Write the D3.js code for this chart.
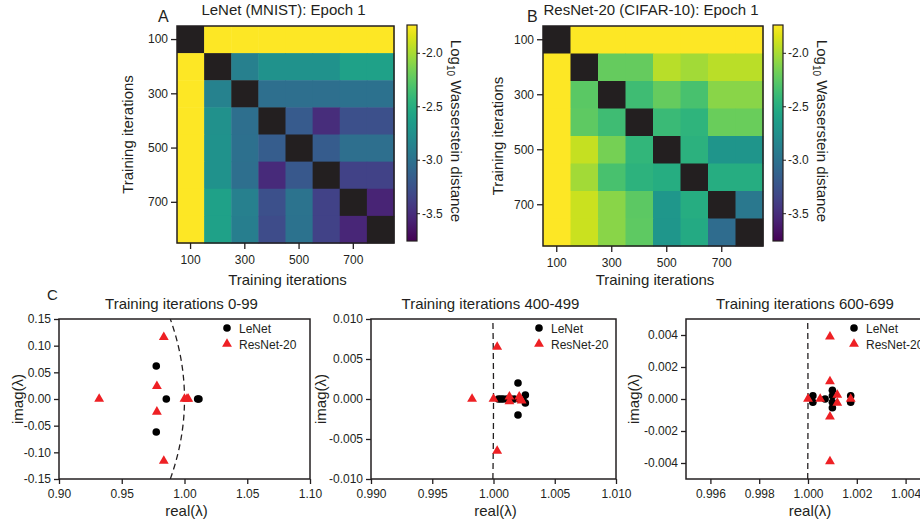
<!DOCTYPE html>
<html><head><meta charset="utf-8">
<script src="https://cdn.jsdelivr.net/npm/d3@7"></script>
<style>
body{margin:0;background:#fff}
svg{display:block}
text{font-family:"Liberation Sans",Arial,Helvetica,sans-serif;fill:#231f20}
</style>
</head><body>
<svg id="chart" width="920" height="522"></svg>
<script>
// ---------- DATA ----------
const iterations = [100,200,300,400,500,600,700,800];
const iterTicks = [100,300,500,700];
const colorbarTicks = [-2.0,-2.5,-3.0,-3.5];
const colorDomain = [-3.76,-1.74];

// log10 Wasserstein distance; null = diagonal (black)
const lenetLogW = [
  [null,-1.5,-1.5,-1.5,-1.5,-1.5,-1.5,-1.5],
  [-1.5,null,-2.89,-2.74,-2.74,-2.74,-2.61,-2.61],
  [-1.5,-2.87,null,-3.03,-3.03,-3.03,-3.01,-3.01],
  [-1.5,-2.75,-3.03,null,-3.19,-3.50,-3.27,-3.27],
  [-1.5,-2.74,-3.02,-3.17,null,-3.18,-3.03,-3.03],
  [-1.5,-2.74,-3.03,-3.52,-3.21,null,-3.36,-3.36],
  [-1.5,-2.61,-2.89,-3.27,-2.99,-3.36,null,-3.56],
  [-1.5,-2.61,-2.90,-3.30,-3.00,-3.36,-3.54,null]
];
const resnetLogW = [
  [null,-1.5,-1.5,-1.5,-1.5,-1.5,-1.5,-1.5],
  [-1.5,null,-2.22,-2.22,-1.96,-2.02,-1.95,-1.95],
  [-1.5,-2.26,null,-2.37,-2.22,-2.33,-2.10,-2.10],
  [-1.5,-2.24,-2.37,null,-2.39,-2.45,-2.20,-2.20],
  [-1.5,-1.92,-2.16,-2.43,null,-2.47,-2.71,-2.71],
  [-1.5,-2.02,-2.33,-2.46,-2.51,null,-2.51,-2.51],
  [-1.5,-1.90,-2.10,-2.25,-2.69,-2.51,null,-2.95],
  [-1.5,-1.90,-2.10,-2.24,-2.70,-2.53,-3.05,null]
];

// eigenvalues [real, imag]
const lenet0 = [[0.9775,0.062],[0.9775,-0.062],[0.9855,0],[1.0105,0],[1.0115,0]];
const resnet0 = [[0.9835,0.116],[0.9835,-0.116],[0.978,0.024],[0.978,-0.024],[0.932,0],[1.000,0],[1.002,0],[1.003,0]];
const lenet400 = [[1.002,0.002],[1.002,-0.002],[1.0026,0.0005],[1.0026,-0.0005],[1.0004,0],[1.0006,0],[1.0008,0],[1.0011,0],[1.0014,0],[1.0017,0],[1.0021,0],[1.0024,0]];
const resnet400 = [[1.0003,0.0065],[1.0003,-0.0065],[0.99825,0],[1.0000,0],[1.0013,0.0003],[1.0013,-0.0003],[1.0021,0.0003],[1.0023,-0.0002],[1.0022,0]];
const lenet600 = [[1.0002,0.0002],[1.0002,-0.0002],[1.0007,0],[1.001,0.00055],[1.001,0.0002],[1.001,-0.0002],[1.001,-0.00055],[1.00175,0.0002],[1.00175,-0.0002]];
const resnet600 = [[1.0009,0.0039],[1.0009,-0.0039],[1.0009,0.0011],[1.0009,-0.0011],[1.0000,0],[1.0005,0],[1.0012,0.00025],[1.0012,-0.00025],[1.00175,0]];

const xTicks0 = [0.90,0.95,1.00,1.05,1.10];
const yTicks0 = [0.15,0.10,0.05,0.00,-0.05,-0.10,-0.15];
const xTicks400 = [0.990,0.995,1.000,1.005,1.010];
const yTicks400 = [0.010,0.005,0.000,-0.005,-0.010];
const xTicks600 = [0.996,0.998,1.000,1.002,1.004];
const yTicks600 = [0.004,0.002,0.000,-0.002,-0.004];

// ---------- DRAW ----------
const svg = d3.select('#chart');
const ink = '#231f20';
const color = d3.scaleSequential(d3.interpolateViridis).domain(colorDomain).clamp(true);

const defs = svg.append('defs');
const grad = defs.append('linearGradient').attr('id','vir').attr('x1',0).attr('y1',1).attr('x2',0).attr('y2',0);
d3.range(0,1.0001,0.05).forEach(t=>grad.append('stop').attr('offset',t).attr('stop-color',d3.interpolateViridis(t)));

function styleAxis(a){
  a.select('.domain').remove();
  a.selectAll('line').attr('stroke',ink).attr('stroke-width',1.3);
  a.selectAll('text').attr('font-size',12).attr('fill',ink).style('font-family','"Liberation Sans",Arial,sans-serif');
}

function heatmap(cfg){
  const g = svg.append('g');
  const x = d3.scaleBand().domain(iterations).range([cfg.left,cfg.left+cfg.size]);
  const y = d3.scaleBand().domain(iterations).range([cfg.top,cfg.top+cfg.size]);
  cfg.data.forEach((row,i)=>row.forEach((v,j)=>{
    g.append('rect').attr('x',x(iterations[j])).attr('y',y(iterations[i]))
      .attr('width',x.bandwidth()+0.5).attr('height',y.bandwidth()+0.5)
      .attr('fill', v===null ? ink : color(v));
  }));
  g.append('rect').attr('x',cfg.left).attr('y',cfg.top).attr('width',cfg.size).attr('height',cfg.size)
    .attr('fill','none').attr('stroke',ink).attr('stroke-width',1.5);
  const ax = g.append('g').attr('transform',`translate(0,${cfg.top+cfg.size})`)
    .call(d3.axisBottom(x).tickValues(iterTicks).tickSize(6).tickPadding(6));
  const ay = g.append('g').attr('transform',`translate(${cfg.left},0)`)
    .call(d3.axisLeft(y).tickValues(iterTicks).tickSize(6).tickPadding(3));
  styleAxis(ax); styleAxis(ay);
  g.append('text').attr('x',cfg.left+cfg.size/2-2).attr('y',15).attr('text-anchor','middle').attr('font-size',15).text(cfg.title);
  g.append('text').attr('x',cfg.letterX).attr('y',22).attr('font-size',16).text(cfg.letter);
  g.append('text').attr('x',cfg.left+cfg.size/2+2).attr('y',285).attr('text-anchor','middle').attr('font-size',15).text('Training iterations');
  g.append('text').attr('transform',`translate(${cfg.yTitleX},${cfg.top+cfg.size/2}) rotate(-90)`).attr('text-anchor','middle').attr('font-size',15).text('Training iterations');
  // colorbar
  const cb = svg.append('g');
  const cy = d3.scaleLinear().domain(colorDomain).range([241,25]);
  cb.append('rect').attr('x',cfg.cbX).attr('y',25).attr('width',10).attr('height',216).attr('fill','url(#vir)').attr('stroke',ink).attr('stroke-width',1.2);
  const ca = cb.append('g').attr('transform',`translate(${cfg.cbX+10},0)`)
    .call(d3.axisRight(cy).tickValues(colorbarTicks).tickSize(3).tickPadding(2).tickFormat(d=>d.toFixed(1)));
  styleAxis(ca);
  ca.selectAll('line').attr('stroke-width',1);
  const lt = cb.append('text').attr('transform',`translate(${cfg.cbX+44},131) rotate(90)`).attr('text-anchor','middle').attr('font-size',15);
  lt.append('tspan').text('Log');
  lt.append('tspan').attr('font-size',10).attr('dy',4).text('10');
  lt.append('tspan').attr('dy',-4).text(' Wasserstein distance');
}

heatmap({left:177,top:26,size:217,data:lenetLogW,title:'LeNet (MNIST): Epoch 1',letter:'A',letterX:158,yTitleX:132.5,cbX:407});
heatmap({left:543,top:26,size:220,data:resnetLogW,title:'ResNet-20 (CIFAR-10): Epoch 1',letter:'B',letterX:527,yTitleX:502.5,cbX:773});

function scatter(cfg){
  const g = svg.append('g');
  const top=319, bottom=479;
  const x = d3.scaleLinear().domain(cfg.xd).range([cfg.left,cfg.right]);
  const y = d3.scaleLinear().domain(cfg.yd).range([bottom,top]);
  const ax = g.append('g').attr('transform',`translate(0,${bottom})`)
    .call(d3.axisBottom(x).tickValues(cfg.xt).tickSize(5).tickPadding(5).tickFormat(d=>d.toFixed(cfg.xf)));
  const ay = g.append('g').attr('transform',`translate(${cfg.left},0)`)
    .call(d3.axisLeft(y).tickValues(cfg.yt).tickSize(5).tickPadding(3).tickFormat(d=>d.toFixed(cfg.yf)));
  styleAxis(ax); styleAxis(ay);
  const clipId='clip'+cfg.left;
  defs.append('clipPath').attr('id',clipId).append('rect').attr('x',cfg.left).attr('y',top).attr('width',cfg.right-cfg.left).attr('height',bottom-top);
  // unit circle reference |lambda| = 1
  const ys = d3.range(cfg.yd[0],cfg.yd[1]+1e-12,(cfg.yd[1]-cfg.yd[0])/100);
  g.append('path').attr('clip-path',`url(#${clipId})`)
    .attr('d',d3.line().x(v=>x(Math.sqrt(1-v*v))).y(v=>y(v))(ys))
    .attr('fill','none').attr('stroke',ink).attr('stroke-width',1.3).attr('stroke-dasharray','6,4');
  g.selectAll('circle.pt').data(cfg.lenet).join('circle').attr('class','pt')
    .attr('cx',d=>x(d[0])).attr('cy',d=>y(d[1])).attr('r',3.8).attr('fill','#000');
  const tri = d3.symbol(d3.symbolTriangle).size(42);
  g.selectAll('path.tri').data(cfg.resnet).join('path').attr('class','tri')
    .attr('d',tri).attr('transform',d=>`translate(${x(d[0])},${y(d[1])})`).attr('fill','#ee2024');
  g.append('rect').attr('x',cfg.left).attr('y',top).attr('width',cfg.right-cfg.left).attr('height',bottom-top)
    .attr('fill','none').attr('stroke',ink).attr('stroke-width',1.5);
  // legend
  const lx = cfg.left+168;
  g.append('circle').attr('cx',lx).attr('cy',328).attr('r',3.8).attr('fill','#000');
  g.append('text').attr('x',lx+12).attr('y',332.5).attr('font-size',12).text('LeNet');
  g.append('path').attr('d',tri).attr('transform',`translate(${lx},344)`).attr('fill','#ee2024');
  g.append('text').attr('x',lx+12).attr('y',348.5).attr('font-size',12).text('ResNet-20');
  // titles
  g.append('text').attr('x',(cfg.left+cfg.right)/2-3).attr('y',309).attr('text-anchor','middle').attr('font-size',15).text(cfg.title);
  g.append('text').attr('x',(cfg.left+cfg.right)/2+2).attr('y',516).attr('text-anchor','middle').attr('font-size',15).text('real(λ)');
  g.append('text').attr('transform',`translate(${cfg.yTitleX},${(top+bottom)/2}) rotate(-90)`).attr('text-anchor','middle').attr('font-size',15).text('imag(λ)');
}

scatter({left:59,right:310,xd:[0.90,1.10],yd:[-0.15,0.15],xt:xTicks0,yt:yTicks0,xf:2,yf:2,lenet:lenet0,resnet:resnet0,title:'Training iterations 0-99',yTitleX:22.5});
scatter({left:371,right:616,xd:[0.990,1.010],yd:[-0.010,0.010],xt:xTicks400,yt:yTicks400,xf:3,yf:3,lenet:lenet400,resnet:resnet400,title:'Training iterations 400-499',yTitleX:326});
scatter({left:686,right:930,xd:[0.995,1.005],yd:[-0.005,0.005],xt:xTicks600,yt:yTicks600,xf:3,yf:3,lenet:lenet600,resnet:resnet600,title:'Training iterations 600-699',yTitleX:639});

svg.append('text').attr('x',47).attr('y',300).attr('font-size',15).text('C');
</script>
</body></html>
